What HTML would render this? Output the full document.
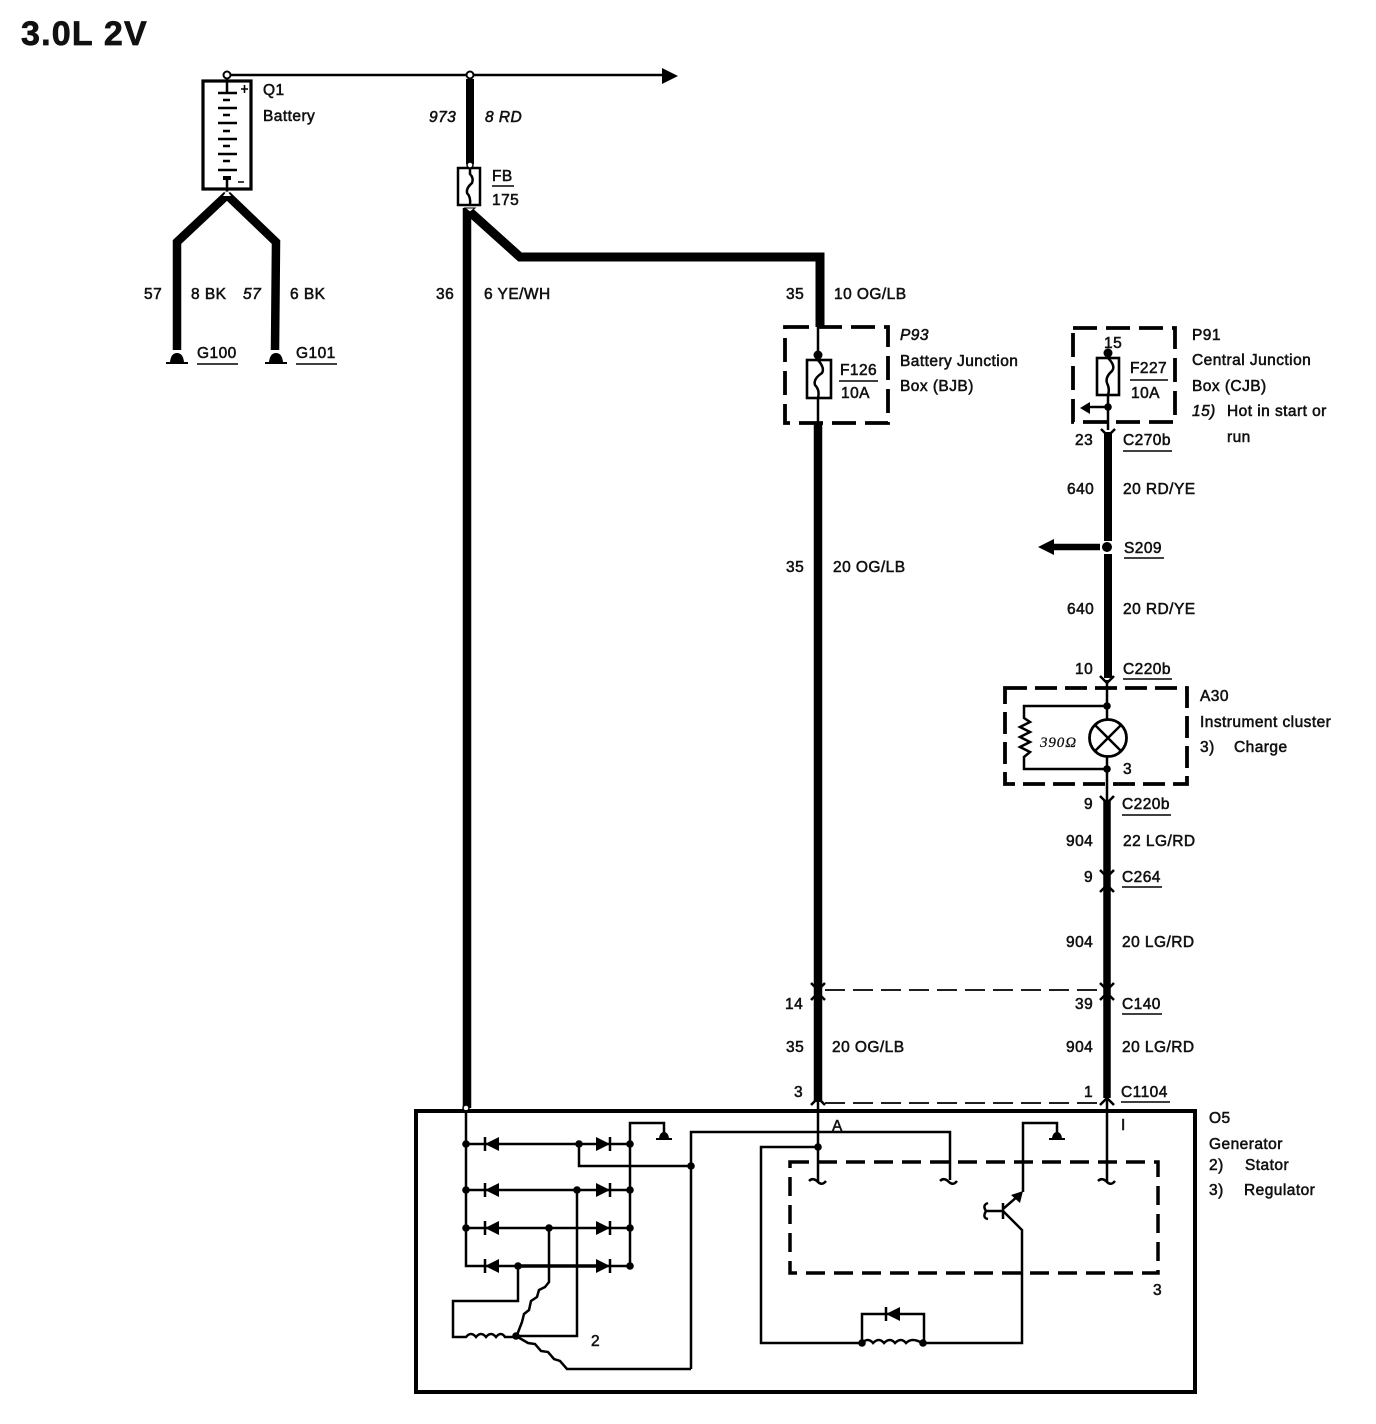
<!DOCTYPE html>
<html><head><meta charset="utf-8"><style>
html,body{margin:0;padding:0;background:#fff}
svg{display:block}
text{font-family:"Liberation Sans",sans-serif;font-size:15.5px;fill:#111;stroke:#111;stroke-width:.55px;letter-spacing:.45px}
.i{font-style:italic}
.w{fill:none;stroke:#000;stroke-linejoin:miter}
.t{fill:none;stroke:#000;stroke-width:2.500}
.u{fill:none;stroke:#000;stroke-width:1.600}
.f{fill:#000;stroke:none}
</style></head><body>
<svg width="1376" height="1424" viewBox="0 0 1376 1424" xmlns="http://www.w3.org/2000/svg">
<rect width="1376" height="1424" fill="#fff"/>
<text x="21" y="45" style="font-size:34px;font-weight:bold;letter-spacing:1.200px;stroke-width:.7px">3.0L 2V</text>

<!-- top bus -->
<path class="t" d="M228 75H664"/>
<path class="f" d="M662 68L678 76L662 84Z"/>
<circle cx="227" cy="75" r="3.500" fill="#fff" stroke="#000" stroke-width="2"/>
<circle cx="470" cy="75" r="3.500" fill="#fff" stroke="#000" stroke-width="2"/>

<!-- battery -->
<rect x="203" y="81" width="48" height="108" fill="#fff" stroke="#000" stroke-width="3.200"/>
<path class="t" d="M227 78V93M218 93H237M223 100H230M218 108H237M223 115H230M218 123H237M223 131H230M218 139H237M223 146H230M218 154H237M223 161H230M218 170H237M227 178V195"/>
<path class="f" d="M223 176h8v4h-8z"/>
<path class="u" d="M241 89h7M244.500 85v8M238 182h6"/>
<path class="w" stroke-width="8.500" d="M227 195L177 242V350"/>
<path class="w" stroke-width="8.500" d="M227 195L276 242L275 350"/>
<path d="M227 191l4 5h-8z" fill="#fff"/>
<path class="f" d="M170 362q1-9 7-9t7 9h4v2h-22v-2zM269 362q1-9 7-9t7 9h4v2h-22v-2z"/>

<!-- 973 + fuse + 36 -->
<path class="w" stroke-width="8" d="M470 79V164"/>
<path class="w" stroke-width="8.500" d="M467 208V1108"/>
<path class="w" stroke-width="9" d="M470 212L520 257H820V327"/>
<rect x="458" y="168" width="22" height="37" fill="#fff" stroke="#000" stroke-width="2.500"/>
<path class="t" d="M470 164V174Q474 178 472 183Q466 188 467 193Q471 197 470 205"/>
<circle cx="470" cy="165" r="3" fill="#fff" stroke="#000" stroke-width="1.500"/>
<path d="M470 212l-5-4h10z" fill="#fff" stroke="#000" stroke-width="1"/>

<!-- P93 -->
<rect x="785" y="327" width="103" height="96" fill="none" stroke="#000" stroke-width="3.800" stroke-dasharray="24 9 24 9"/>
<path class="t" d="M818 327V360M818 398V423"/>
<circle cx="818" cy="355" r="4.500" fill="#000"/>
<rect x="807" y="360" width="24" height="38" fill="#fff" stroke="#000" stroke-width="2.600"/>
<path class="t" d="M818 360Q825 368 822 373Q813 379 815 385Q820 390 818 398"/>
<path class="u" d="M839 381H878"/>
<path class="w" stroke-width="8.500" d="M818 423V1102"/>

<!-- P91 -->
<rect x="1073" y="328" width="102" height="94" fill="none" stroke="#000" stroke-width="3.800" stroke-dasharray="24 9 24 9"/>
<circle cx="1108" cy="353" r="4.500" fill="#000"/>
<rect x="1097" y="358" width="22" height="37" fill="#fff" stroke="#000" stroke-width="2.600"/>
<path class="t" d="M1108 353V358Q1116 366 1112 371Q1105 377 1107 383Q1110 389 1108 395V430"/>
<circle cx="1108" cy="407" r="3.800" fill="#000"/>
<path class="t" d="M1108 407H1088"/>
<path class="f" d="M1080 408L1090 402V414Z"/>
<path class="u" d="M1130 380H1168"/>
<path class="t" d="M1101 429L1108 436L1115 429"/>
<path class="w" stroke-width="8" d="M1108 432V541M1108 554V678"/>
<circle cx="1107" cy="547" r="5" fill="#000"/>
<path class="w" stroke-width="6.500" d="M1052 547H1100"/>
<path class="f" d="M1038 547L1054 539V555Z"/>

<!-- A30 -->
<rect x="1005" y="688" width="182" height="96" fill="none" stroke="#000" stroke-width="3.800" stroke-dasharray="22 8 22 8"/>
<path class="t" d="M1100 676L1107 683L1114 676"/>
<path class="t" d="M1107 680V719M1107 757V800"/>
<circle cx="1107" cy="706" r="3.800" fill="#000"/>
<circle cx="1107" cy="769" r="3.800" fill="#000"/>
<circle cx="1108" cy="738" r="18.500" fill="#fff" stroke="#000" stroke-width="2.800"/>
<path class="t" d="M1095 725L1121 751M1121 725L1095 751"/>
<path class="t" d="M1107 706H1024V718L1030 722L1020 727L1030 732L1020 737L1030 742L1020 747L1030 752L1024 757V769H1107"/>
<text x="1040" y="747" style="font-family:'Liberation Serif',serif;font-style:italic;font-size:15px;letter-spacing:.9px;stroke-width:.25px">390Ω</text>

<!-- lower 1107 wire -->
<path class="t" d="M1100 796L1107 803L1114 796"/>
<path class="w" stroke-width="7.500" d="M1107 800V1098"/>
<path class="t" d="M1100 870L1107 877L1114 870M1100 892L1107 885L1114 892"/>
<path class="t" d="M1100 983L1107 990L1114 983M1100 1000L1107 993L1114 1000"/>
<path class="t" d="M1100 1105L1107 1098L1114 1105"/>
<path class="t" d="M811 983L818 990L825 983M811 1000L818 993L825 1000M811 1105L818 1098L825 1105"/>
<path d="M825 990H1100" fill="none" stroke="#000" stroke-width="1.800" stroke-dasharray="20 8"/>
<path d="M825 1103H1100" fill="none" stroke="#000" stroke-width="1.800" stroke-dasharray="20 8"/>
<path class="u" d="M1121 1102H1170"/>

<!-- generator box -->
<rect x="416" y="1111" width="779" height="281" fill="none" stroke="#000" stroke-width="4"/>
<circle cx="466" cy="1108" r="3" fill="#fff" stroke="#000" stroke-width="1.500"/>

<!-- rectifier -->
<path class="t" d="M466 1110V1266H630V1123H664V1133"/>
<path class="t" d="M466 1144H630M466 1190H630M466 1228H630"/>
<path class="w" stroke-width="3.500" d="M518 1266H600"/>
<path class="t" d="M579 1144V1166H691"/>
<path class="t" d="M691 1369V1132H950V1180"/>
<path class="t" d="M577 1190V1336H516"/>
<path class="t" d="M549 1228V1282L545 1287L539 1290L537 1297L531 1301L529 1310L524 1314L522 1322L517 1335"/>
<path class="t" d="M518 1266V1301H453V1337H466Q471 1331 476 1337Q481 1331 486 1337Q491 1331 496 1337Q501 1331 505 1337H516"/>
<path class="t" d="M516 1336L528 1343L535 1344L541 1351L548 1352L554 1359L560 1361L567 1369H691"/>
<g class="f">
<path d="M499 1137V1151L485 1144ZM499 1183V1197L485 1190ZM499 1221V1235L485 1228ZM499 1259V1273L485 1266Z"/>
<path d="M596 1137V1151L610 1144ZM596 1183V1197L610 1190ZM596 1221V1235L610 1228ZM596 1259V1273L610 1266Z"/>
<circle cx="466" cy="1144" r="3.800"/><circle cx="466" cy="1190" r="3.800"/><circle cx="466" cy="1228" r="3.800"/>
<circle cx="630" cy="1144" r="3.800"/><circle cx="630" cy="1190" r="3.800"/><circle cx="630" cy="1228" r="3.800"/><circle cx="630" cy="1266" r="3.800"/>
<circle cx="579" cy="1144" r="3.800"/><circle cx="577" cy="1190" r="3.800"/><circle cx="549" cy="1228" r="3.800"/><circle cx="518" cy="1266" r="3.800"/>
<circle cx="691" cy="1166" r="3.800"/><circle cx="516" cy="1336" r="3.800"/>
<path d="M659 1138q1-6 5-6t5 6h3v2h-16v-2zM1052 1138q1-6 5-6t5 6h3v2h-16v-2z"/>
</g>
<path class="t" d="M485 1137V1151M610 1137V1151M485 1183V1197M610 1183V1197M485 1221V1235M610 1221V1235M485 1259V1273M610 1259V1273"/>

<!-- regulator -->
<rect x="790" y="1162" width="368" height="111" fill="none" stroke="#000" stroke-width="3.500" stroke-dasharray="19 9"/>
<path class="t" d="M818 1100V1182M1107 1100V1182"/>
<circle cx="818" cy="1147" r="3.800" fill="#000"/>
<path class="t" d="M809 1181Q813 1177 818 1182Q822 1186 826 1181M940 1181Q944 1177 949 1182Q953 1186 957 1181M1098 1181Q1102 1177 1107 1182Q1111 1186 1115 1181"/>
<path class="t" d="M818 1147H761V1343H862M922 1343H1022V1230L1003 1211"/>
<path class="t" d="M1023 1192V1123H1057V1133"/>
<path class="t" d="M1003 1211H985M988 1203Q982 1205 986 1211Q982 1218 988 1219"/>
<path class="t" d="M1003 1203V1219M1003 1209L1018 1196"/>
<path class="f" d="M1023 1191L1020 1203L1011 1195Z"/>
<path class="t" d="M862 1343V1314H924V1343M862 1343Q868 1337 873 1343Q879 1337 884 1343Q890 1337 895 1343Q901 1337 906 1343Q912 1337 922 1343"/>
<path class="f" d="M900 1307V1321L886 1314Z"/>
<path class="t" d="M886 1307V1321"/>
<circle cx="862" cy="1343" r="3.800" fill="#000"/><circle cx="923" cy="1343" r="3.800" fill="#000"/>

<!-- underlines -->
<path class="u" d="M197 364H238M296 364H337M492 186H514M1123 451H1172M1124 558H1164M1123 679H1172M1122 815H1171M1122 887H1162M1122 1014H1162"/>

<!-- labels -->
<text x="263" y="95">Q1</text><text x="263" y="121">Battery</text>
<text x="429" y="122" class="i">973</text><text x="485" y="122" class="i">8 RD</text>
<text x="492" y="181">FB</text><text x="492" y="205">175</text>
<text x="144" y="299">57</text><text x="191" y="299">8 BK</text><text x="243" y="299" class="i">57</text><text x="290" y="299">6 BK</text>
<text x="436" y="299">36</text><text x="484" y="299">6 YE/WH</text>
<text x="786" y="299">35</text><text x="834" y="299">10 OG/LB</text>
<text x="197" y="358">G100</text><text x="296" y="358">G101</text>
<text x="900" y="340" class="i">P93</text><text x="900" y="366">Battery Junction</text><text x="900" y="391">Box (BJB)</text>
<text x="840" y="375">F126</text><text x="841" y="398">10A</text>
<text x="1192" y="340">P91</text><text x="1192" y="365">Central Junction</text><text x="1192" y="391">Box (CJB)</text>
<text x="1192" y="416" class="i">15)</text><text x="1227" y="416">Hot in start or</text><text x="1227" y="442">run</text>
<text x="1104" y="348">15</text><text x="1130" y="373">F227</text><text x="1131" y="398">10A</text>
<text x="1075" y="445">23</text><text x="1123" y="445">C270b</text>
<text x="1067" y="494">640</text><text x="1123" y="494">20 RD/YE</text>
<text x="1124" y="553">S209</text>
<text x="1067" y="614">640</text><text x="1123" y="614">20 RD/YE</text>
<text x="786" y="572">35</text><text x="833" y="572">20 OG/LB</text>
<text x="1075" y="674">10</text><text x="1123" y="674">C220b</text>
<text x="1200" y="701">A30</text><text x="1200" y="727">Instrument cluster</text><text x="1200" y="752">3)</text><text x="1234" y="752">Charge</text>
<text x="1123" y="774">3</text>
<text x="1084" y="809">9</text><text x="1122" y="809">C220b</text>
<text x="1066" y="846">904</text><text x="1123" y="846">22 LG/RD</text>
<text x="1084" y="882">9</text><text x="1122" y="882">C264</text>
<text x="1066" y="947">904</text><text x="1122" y="947">20 LG/RD</text>
<text x="785" y="1009">14</text><text x="1075" y="1009">39</text><text x="1122" y="1009">C140</text>
<text x="786" y="1052">35</text><text x="832" y="1052">20 OG/LB</text>
<text x="1066" y="1052">904</text><text x="1122" y="1052">20 LG/RD</text>
<text x="794" y="1097">3</text><text x="1084" y="1097">1</text><text x="1121" y="1097">C1104</text>
<text x="832" y="1131">A</text><text x="1121" y="1130">I</text>
<text x="1209" y="1123">O5</text><text x="1209" y="1149">Generator</text>
<text x="1209" y="1170">2)</text><text x="1245" y="1170">Stator</text>
<text x="1209" y="1195">3)</text><text x="1244" y="1195">Regulator</text>
<text x="1153" y="1295">3</text><text x="591" y="1346">2</text>
</svg>
</body></html>
